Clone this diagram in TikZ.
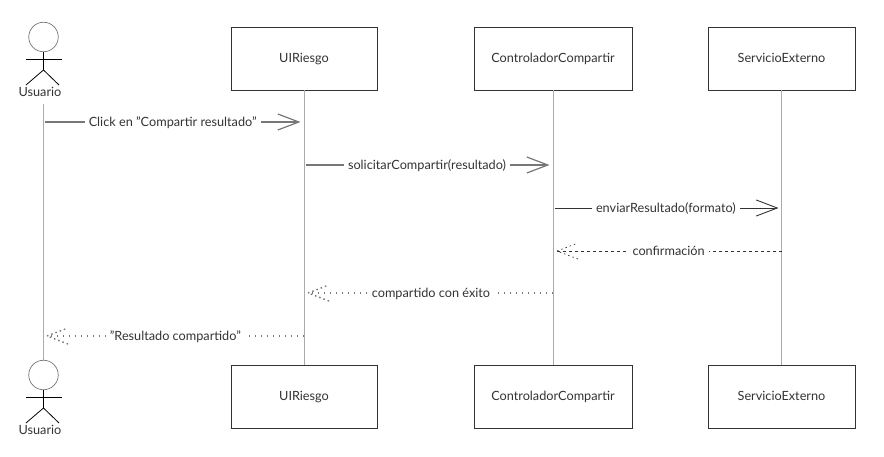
\documentclass[tikz,border=0pt]{standalone}
\usepackage{fontspec}
\setmainfont{Lato}
\usepackage{tikz}
\usetikzlibrary{arrows.meta}
\pgfdeclarearrow{
  name=dotbarb,
  setup code={
    \pgfarrowssettipend{0pt}
    \pgfarrowssetlineend{0pt}
    \pgfarrowssetvisualtipend{0pt}
    \pgfarrowssetbackend{-21pt}
    \pgfarrowssetvisualbackend{-21pt}
  },
  drawing code={
    \pgfsetdash{{1.5pt}{3pt}}{0pt}
    \pgfpathmoveto{\pgfqpoint{-21pt}{8pt}}
    \pgfpathlineto{\pgfqpoint{0pt}{0pt}}
    \pgfpathlineto{\pgfqpoint{-21pt}{-8pt}}
    \pgfusepathqstroke
  },
  defaults={}
}
\definecolor{lifegray}{HTML}{ABABAB}
\definecolor{msggray}{HTML}{777777}
\definecolor{inkgray}{HTML}{333333}

\begin{document}
\begin{tikzpicture}[x=1pt,y=-1pt]
\tikzstyle{box}=[rectangle, draw=inkgray, line width=0.9pt, fill=white, minimum height=63pt, text height=10pt, text depth=2pt, font=\fontsize{12.7}{14}\selectfont, text=inkgray]
\tikzstyle{head}=[circle, draw=msggray, line width=0.7pt, fill=white, minimum size=29.5pt, inner sep=0pt]
\tikzstyle{limb}=[draw=black, line width=0.8pt]
\tikzstyle{actorname}=[text height=10pt, text depth=1pt, font=\fontsize{12.7}{14}\selectfont, text=inkgray, inner sep=0pt]
\tikzstyle{life}=[draw=lifegray, line width=1pt]
\tikzstyle{txt}=[fill=white, inner sep=4pt, text height=10.5pt, text depth=1.5pt, font=\fontsize{12.7}{14}\selectfont, text=inkgray]
\tikzstyle{msg}=[line width=1.2pt, line join=round, -{Straight Barb[length=21pt,width=16pt]}, shorten >=3.5pt, shorten <=1.5pt]
\tikzstyle{ret}=[line width=1.4pt, draw=msggray, dash pattern=on 1.5pt off 4.5pt, -dotbarb, shorten >=4pt]

\useasboundingbox (0,0) rectangle (884,457);

% lifelines go first, everything else sits on top
\coordinate (ut) at (43,104);
\coordinate (ub) at (43,375);
\node[box, minimum width=146pt] (r1) at (304,58.5) {UIRiesgo};
\node[box, minimum width=158pt] (c1) at (553,58.5) {ControladorCompartir};
\node[box, minimum width=147pt] (s1) at (781.5,58.5) {ServicioExterno};
\node[box, minimum width=146pt] (r2) at (304,396.5) {UIRiesgo};
\node[box, minimum width=158pt] (c2) at (553,396.5) {ControladorCompartir};
\node[box, minimum width=147pt] (s2) at (781.5,396.5) {ServicioExterno};

\draw[life] (ut)--(ub);
\draw[life] (r1)--(r2);
\draw[life] (c1)--(c2);
\draw[life] (s1)--(s2);

% actor on top
\node[head] (h1) at (43.5,37) {};
\coordinate (a1l) at (26,59);
\coordinate (a1r) at (61.5,59);
\coordinate (w1) at (43.5,70);
\coordinate (f1l) at (26,85);
\coordinate (f1r) at (59,85);
\draw[limb] (h1)--(w1);
\draw[limb] (a1l)--(a1r);
\draw[limb] (f1l)--(w1)--(f1r);
\node[actorname] (n1) at (40,92) {Usuario};

% actor below
\node[head] (h2) at (43.5,375) {};
\coordinate (a2l) at (26,397);
\coordinate (a2r) at (61.5,397);
\coordinate (w2) at (43.5,408);
\coordinate (f2l) at (26,423);
\coordinate (f2r) at (59,423);
\draw[limb] (h2)--(w2);
\draw[limb] (a2l)--(a2r);
\draw[limb] (f2l)--(w2)--(f2r);
\node[actorname] (n2) at (40,430) {Usuario};

% message ends on the lifelines
\coordinate (u1) at (43,122);
\coordinate (r1m) at (304,122);
\coordinate (r2m) at (304,165);
\coordinate (c2m) at (553,165);
\coordinate (c3m) at (553,208);
\coordinate (s3m) at (782,208);
\coordinate (s4m) at (782,251);
\coordinate (c4m) at (553,251);
\coordinate (c5m) at (553,293);
\coordinate (r5m) at (304,293);
\coordinate (r6m) at (304,336);
\coordinate (u6) at (43,336);

\draw[msg, draw=msggray] (u1)--(r1m) node[txt, pos=0.497] (m1) {Click en "Compartir resultado"};
\draw[msg, draw=msggray] (r2m)--(c2m) node[txt, pos=0.494] (m2) {solicitarCompartir(resultado)};
\draw[msg, draw=inkgray, line width=0.9pt] (c3m)--(s3m) node[txt, pos=0.493] (m3) {enviarResultado(formato)};
\draw[ret, draw=inkgray, line width=0.7pt, dash pattern=on 3pt off 3pt] (s4m)--(c4m) node[txt, pos=0.495] (m4) {confirmación};
\draw[ret] (c5m)--(r5m) node[txt, pos=0.49] (m5) {compartido con éxito};
\draw[ret] (r6m)--(u6) node[txt, pos=0.493] (m6) {"Resultado compartido"};
\end{tikzpicture}
\end{document}
